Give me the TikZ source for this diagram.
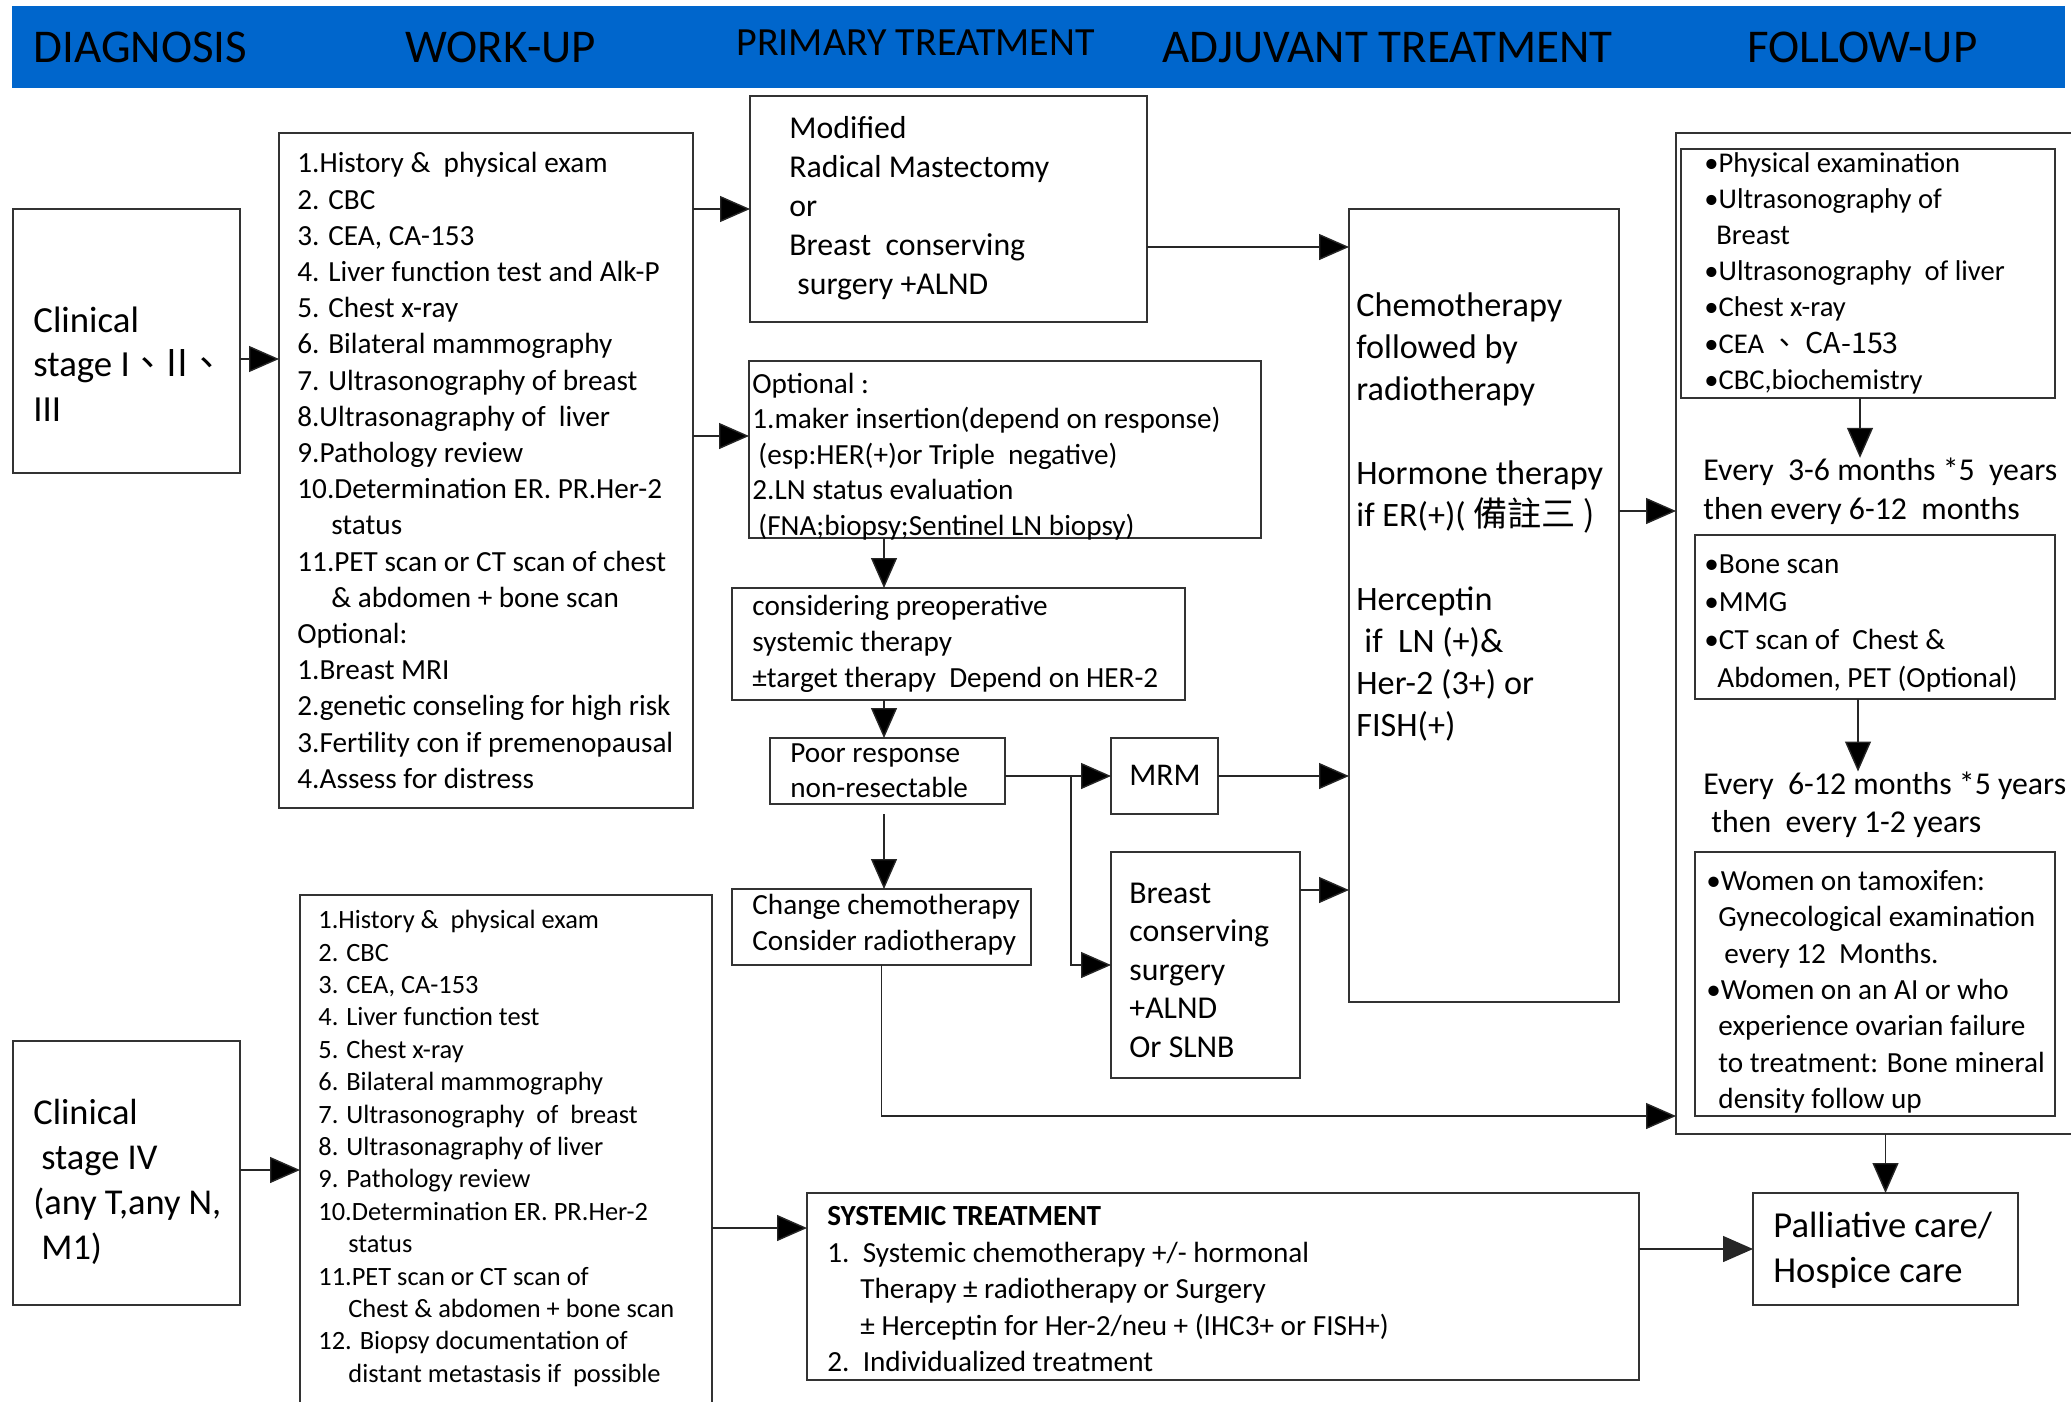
\documentclass[tikz,border=0pt]{standalone}
\usepackage{fontspec}
\setmainfont{Carlito}
\newfontfamily\cjk{Noto Sans CJK TC}
\usetikzlibrary{positioning,calc,arrows.meta}
\definecolor{hdrblue}{RGB}{0,102,204}

\begin{document}
\begin{tikzpicture}[%
    x=0.5pt,y=-0.5pt,
    graybox/.style={draw=#1,line width=0.7pt,inner sep=0,outer sep=0,anchor=north west},
    graybox/.default=black!80,
    boxsize/.style 2 args={minimum width=#1*0.5pt,minimum height=#2*0.5pt},
    boxtext/.style 2 args={inner sep=0,anchor=north west,align=left,yshift=0.7*#2pt-3.3pt,
        font=\fontsize{#1}{#2}\selectfont,execute at begin node=\strut},
    headtext/.style={inner sep=0,anchor=base west,font=\fontsize{#1}{#1}\selectfont},
    headtext/.default=23.5
    ]
    \path[use as bounding box,fill=white] (0,0) rectangle (2071,1402);
    %%% Kopbalk
    \node[graybox=hdrblue,fill=hdrblue,boxsize={2051}{80}] (header) at (13,7) {};
    \node[headtext] (diag_head) at (33,63) {DIAGNOSIS};
    \node[headtext] (work_head) at (405,63) {WORK-UP};
    \node[headtext=20] (prim_head) at (736,56) {PRIMARY TREATMENT};
    \node[headtext] (adj_head) at (1162,63) {ADJUVANT TREATMENT};
    \node[headtext] (follow_head) at (1747,63) {FOLLOW-UP};
    %%% Stadium I-III
    \node[graybox,boxsize={227}{264}] (stage_one) at (13,209) {};
    \node[boxtext={18.4}{22.3}] (stage_one_t) at (33,331) {Clinical\\stage I\cjk{、}II\cjk{、}\\III};
    \node[graybox,boxsize={414}{675}] (workup_one) at (279,133) {};
    \node[boxtext={14.6}{18.1}] (workup_one_t) at (297,171)
        {1.History \&\ \ physical exam\\
         2. CBC\\
         3. CEA, CA-153\\
         4. Liver function test and Alk-P\\
         5. Chest x-ray\\
         6. Bilateral mammography\\
         7. Ultrasonography of breast\\
         8.Ultrasonagraphy of\ \ liver\\
         9.Pathology review\\
         10.Determination ER. PR.Her-2\\
         \hspace*{17pt}status\\
         11.PET scan or CT scan of chest\\
         \hspace*{17pt}\& abdomen + bone scan\\
         Optional:\\
         1.Breast MRI\\
         2.genetic conseling for high risk\\
         3.Fertility con if premenopausal\\
         4.Assess for distress};
    %%% Primaire behandeling
    \node[graybox,boxsize={397}{226}] (prim_surg) at (750,96) {};
    \node[boxtext={15.9}{19.5}] (prim_surg_t) at (789,136.5)
        {Modified\\Radical Mastectomy\\or\\Breast\ \ conserving\\\hspace*{4pt}surgery +ALND};
    \node[graybox,boxsize={512}{177}] (opt_surg) at (749,361) {};
    \node[boxtext={14.6}{17.75}] (opt_surg_t) at (752,391)
        {Optional :\\
         1.maker insertion(depend on response)\\
         \hspace*{3pt}(esp:HER(+)or Triple\ \ negative)\\
         2.LN status evaluation\\
         \hspace*{3pt}(FNA;biopsy;Sentinel LN biopsy)};
    \node[graybox,boxsize={453}{112}] (preop_sys) at (732,588) {};
    \node[boxtext={14.6}{18}] (preop_sys_t) at (752,613)
        {considering preoperative\\systemic therapy\\±target therapy\ \ Depend on HER-2};
    \node[graybox,boxsize={235}{66}] (poor_resp) at (770,738) {};
    \node[boxtext={14.6}{17.5}] (poor_resp_t) at (790,761) {Poor response\\non-resectable};
    \node[graybox,boxsize={299}{76}] (change_chemo) at (732,889) {};
    \node[boxtext={14.6}{18}] (change_chemo_t) at (752,912) {Change chemotherapy\\Consider radiotherapy};
    \node[graybox,boxsize={107}{76}] (mrm_surg) at (1111,738) {};
    \node[boxtext={15.8}{19}] (mrm_surg_t) at (1129,778) {MRM};
    \node[graybox,boxsize={189}{226}] (bcs_surg) at (1111,852) {};
    \node[boxtext={15.9}{19.25}] (bcs_surg_t) at (1129,903) {Breast\\conserving\\surgery\\+ALND\\Or SLNB};
    %%% Adjuvante behandeling
    \node[graybox,boxsize={270}{793}] (adj_therap) at (1349,209) {};
    \node[boxtext={17.1}{21}] (adj_therap_t) at (1356,315)
        {Chemotherapy\\
         followed by\\
         radiotherapy\\[21pt]
         Hormone therapy\\
         if ER(+)( \cjk{備註三} )\\[21pt]
         Herceptin\\
         \hspace*{4pt}if\ \ LN (+)\&\\
         Her-2 (3+) or\\
         FISH(+)};
    %%% Follow-up
    \node[graybox,boxsize={410}{1001}] (follow_box) at (1676,133) {};
    \node[graybox,boxsize={374}{249}] (follow_one) at (1681,149) {};
    \node[boxtext={14.3}{18.1}] (follow_one_t) at (1704,170.5)
        {•Physical examination\\
         •Ultrasonography of\\
         \hspace*{6pt}Breast\\
         •Ultrasonography\ \ of liver\\
         •Chest x-ray\\
         •CEA \cjk{、}\ CA-153\\
         •CBC,biochemistry};
    \node[boxtext={15.9}{19.5}] (every_one) at (1703,478.5)
        {Every\ \ 3-6 months *5\ \ years\\then every 6-12\ \ months};
    \node[graybox,boxsize={360}{164}] (follow_two) at (1695,535) {};
    \node[boxtext={14.6}{19}] (follow_two_t) at (1704,574)
        {•Bone scan\\•MMG\\•CT scan of\ \ Chest \&\\\hspace*{6.5pt}Abdomen, PET (Optional)};
    \node[boxtext={15.9}{19}] (every_two) at (1703,791.5)
        {Every\ \ 6-12 months *5 years\\\hspace*{4pt}then\ \ every 1-2 years};
    \node[graybox,boxsize={360}{264}] (follow_three) at (1695,852) {};
    \node[boxtext={14.6}{18.15}] (follow_three_t) at (1706,889)
        {•Women on tamoxifen:\\
         \hspace*{6pt}Gynecological examination\\
         \hspace*{9pt}every 12\ \ Months.\\
         •Women on an AI or who\\
         \hspace*{6pt}experience ovarian failure\\
         \hspace*{6pt}to treatment: Bone mineral\\
         \hspace*{6pt}density follow up};
    \node[graybox,boxsize={265}{112}] (palliative) at (1753,1193) {};
    \node[boxtext={18.3}{22.5}] (palliative_t) at (1773,1237) {Palliative care/\\Hospice care};
    %%% Stadium IV
    \node[graybox,boxsize={227}{264}] (stage_four) at (13,1041) {};
    \node[boxtext={18.2}{22.5}] (stage_four_t) at (33,1124)
        {Clinical\\\hspace*{4pt}stage IV\\(any T,any N,\\\hspace*{4pt}M1)};
    \node[graybox,boxsize={412}{520}] (workup_four) at (300,895) {};
    \node[boxtext={13.2}{16.2}] (workup_four_t) at (318,926)
        {1.History \&\ \ physical exam\\
         2. CBC\\
         3. CEA, CA-153\\
         4. Liver function test\\
         5. Chest x-ray\\
         6. Bilateral mammography\\
         7. Ultrasonography\ \ of\ \ breast\\
         8. Ultrasonagraphy of liver\\
         9. Pathology review\\
         10.Determination ER. PR.Her-2\\
         \hspace*{15pt}status\\
         11.PET scan or CT scan of\\
         \hspace*{15pt}Chest \& abdomen + bone scan\\
         12. Biopsy documentation of\\
         \hspace*{15pt}distant metastasis if\ \ possible};
    \node[graybox,boxsize={832}{187}] (sys_treat) at (807,1193) {};
    \node[boxtext={14.6}{18.25}] (sys_treat_t) at (827,1225)
        {\textbf{SYSTEMIC TREATMENT}\\
         1.\ \ Systemic chemotherapy +/- hormonal\\
         \hspace*{16.5pt}Therapy ± radiotherapy or Surgery\\
         \hspace*{16.5pt}± Herceptin for Her-2/neu + (IHC3+ or FISH+)\\
         2.\ \ Individualized treatment};
    \path[draw=black!85,->,>={Triangle[length=15pt,width=13pt]},line width=0.7pt]
        (stage_one.east |- 0,359) edge (workup_one.west |- 0,359)
        %%% naar primaire behandeling
        (workup_one.east |- 0,209) edge (prim_surg.west |- 0,209)
        (workup_one.east |- 0,436) edge (opt_surg.west |- 0,436)
        (884,0 |- opt_surg.south) edge (884,0 |- preop_sys.north)
        (884,0 |- preop_sys.south) edge (884,0 |- poor_resp.north)
        (884,0 |- poor_resp.south) edge[shorten <=5pt] (884,0 |- change_chemo.north)
        (poor_resp.east |- mrm_surg.west) edge (mrm_surg.west)
        (poor_resp.east |- mrm_surg.west) edge[to path={-| ([xshift=-20pt]\tikztotarget) -- (\tikztotarget)}] (bcs_surg.west)
        %%% naar adjuvante behandeling
        (prim_surg.east |- 0,247) edge (adj_therap.west |- 0,247)
        (mrm_surg.east) edge (adj_therap.west |- mrm_surg.east)
        (bcs_surg.east |- 0,890) edge (adj_therap.west |- 0,890)
        %%% naar follow-up
        (adj_therap.east |- 0,511) edge (follow_box.west |- 0,511)
        (change_chemo.south) edge[to path={|- (\tikztotarget)}] (follow_box.west |- 0,1116)
        (1860,0 |- follow_one.south) edge (1860,0 |- every_one.north)
        (1858,0 |- follow_two.south) edge (1858,0 |- every_two.north)
        (follow_box.south -| palliative.north) edge (palliative.north)
        %%% stadium IV
        (stage_four.east |- 0,1170) edge (workup_four.west |- 0,1170)
        (workup_four.east |- 0,1228) edge (sys_treat.west |- 0,1228)
        (sys_treat.east |- palliative.west) -- (palliative.west)
        ;
\end{tikzpicture}
\end{document}
